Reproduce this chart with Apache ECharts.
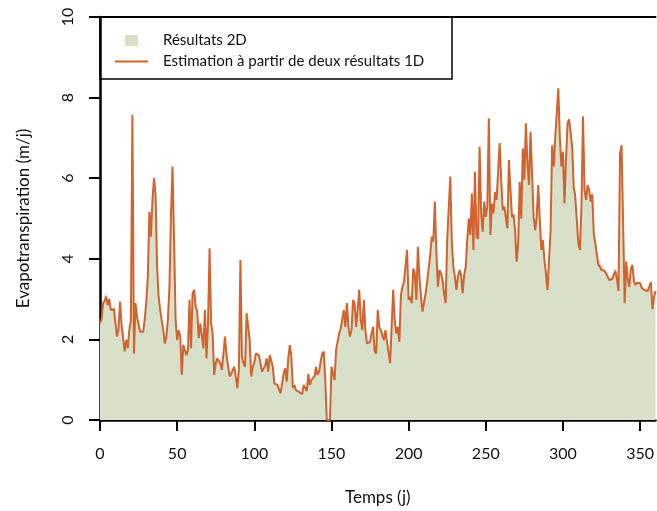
<!DOCTYPE html>
<html>
<head>
<meta charset="utf-8">
<title>Evapotranspiration</title>
<script src="https://cdn.jsdelivr.net/npm/echarts@6.0.0/dist/echarts.min.js"></script>
<style>
  html, body { margin: 0; padding: 0; background: #fff; }
  #chart { width: 657px; height: 511px; }
</style>
</head>
<body>
<div id="chart"></div>
<script>
// valeurs journalieres, jour 0 a 360
var estimation1D = [
    2.4, 2.5, 2.9, 2.95, 3.06, 2.85, 3.0, 2.73, 2.69, 2.75,
    2.73, 2.07, 2.27, 2.94, 2.36, 2.36, 1.70, 1.99, 1.78, 2.23,
    2.48, 7.57, 1.65, 2.9, 2.56, 2.56, 2.19, 2.15, 2.19, 2.5,
    2.94, 3.56, 5.17, 4.55, 5.46, 6.0, 5.6, 3.8, 3.06, 2.73,
    2.48, 2.23, 1.9, 2.07, 2.5, 3.3, 5.1, 6.29, 4.47, 2.48,
    1.98, 2.23, 2.07, 1.12, 1.86, 1.74, 1.61, 1.74, 2.98, 1.78,
    3.14, 3.23, 2.81, 2.69, 2.03, 2.40, 2.40, 1.78, 2.73, 1.53,
    2.4, 4.26, 2.40, 2.15, 1.12, 1.41, 1.53, 1.53, 1.41, 1.24,
    1.2, 2.07, 1.61, 1.57, 1.08, 1.15, 1.24, 1.32, 1.08, 0.79,
    1.24, 3.97, 1.57, 1.41, 1.32, 2.65, 2.69, 1.98, 1.08, 1.32,
    1.41, 1.65, 1.61, 1.61, 1.41, 1.20, 1.24, 1.35, 1.53, 1.20,
    1.61, 1.57, 1.32, 0.91, 0.87, 0.87, 0.87, 0.66, 0.9, 1.16,
    1.28, 0.95, 1.53, 1.86, 1.57, 0.79, 0.87, 0.74, 0.70, 0.70,
    0.66, 0.64, 0.87, 0.87, 0.72, 1.14, 0.87, 0.99, 1.0, 1.08,
    1.32, 1.12, 1.2, 1.45, 1.65, 1.70, 1.0, 0, 0, 0,
    1.32, 1.3, 0.99, 1.74, 1.78, 2.15, 2.27, 2.31, 2.73, 2.31,
    2.90, 2.31, 2.07, 2.23, 2.98, 2.9, 2.31, 2.73, 3.23, 2.48,
    2.23, 2.98, 2.23, 1.90, 1.90, 1.94, 2.15, 2.31, 1.70, 1.65,
    2.73, 2.31, 2.23, 2.27, 1.98, 2.23, 1.94, 1.90, 1.41, 1.41,
    3.23, 2.48, 2.15, 2.31, 1.94, 3.10, 3.3, 3.43, 3.39, 4.22,
    2.98, 3.06, 2.90, 3.76, 3.64, 2.98, 4.30, 3.56, 3.06, 2.69,
    2.65, 3.14, 3.43, 3.43, 4.1, 4.55, 4.43, 5.42, 4.14, 3.31,
    3.72, 3.64, 3.47, 3.14, 2.90, 4.47, 5.26, 6.04, 4.4, 3.8,
    3.55, 3.23, 3.56, 3.72, 3.6, 3.14, 3.6, 3.8, 4.47, 5.0,
    4.59, 5.62, 4.22, 6.16, 4.55, 4.5, 6.78, 5.13, 4.67, 5.42,
    5.04, 5.29, 7.49, 4.59, 5.37, 5.13, 5.66, 5.46, 5.46, 6.87,
    5.96, 5.21, 5.3, 5.3, 4.76, 6.45, 5.71, 5.04, 5.1, 4.7,
    3.93, 4.38, 5.91, 5.0, 6.74, 5.96, 7.36, 6.37, 5.83, 7.15,
    6.12, 5.04, 4.71, 5.04, 5.83, 4.96, 4.22, 4.47, 3.97, 3.64,
    3.23, 3.2, 4.71, 6.82, 6.29, 7.0, 7.03, 8.23, 7.03, 6.29,
    6.66, 5.37, 6.49, 7.36, 7.46, 7.12, 6.78, 5.79, 5.54, 4.96,
    4.38, 4.22, 5.29, 7.53, 5.71, 5.46, 5.83, 5.71, 5.42, 5.6,
    4.63, 4.38, 4.1, 3.85, 3.8, 3.72, 3.68, 3.7, 3.64, 3.62,
    3.47, 3.44, 3.5, 3.6, 3.7, 3.5, 3.2, 6.6, 6.82, 4.9,
    2.90, 3.93, 3.5, 3.3, 3.75, 3.85, 3.45, 3.35, 3.4, 3.42,
    3.4, 3.28, 3.25, 3.22, 3.2, 3.2, 3.22, 3.42, 2.75, 3.05,
    3.2
];

// jours ou le resultat 2D s'ecarte visiblement de l'estimation [jour, valeur]
var ecarts2D = [
    [3, 3.12], [4, 3.18], [6, 3.1], [9, 2.85],
    [323, 3.95], [324, 3.95], [325, 3.88], [326, 3.82], [327, 3.8],
    [332, 3.6], [333, 3.72], [334, 3.8]
];

var xTicks = [0, 50, 100, 150, 200, 250, 300, 350];
var yTicks = [0, 2, 4, 6, 8, 10];

function buildSeries(values, overrides) {
    var out = [];
    values.forEach(function (v, i) {
        out.push([i, v]);
    });
    if (overrides) {
        overrides.forEach(function (o) {
            out[o[0]] = [o[0], o[1]];
        });
    }
    return out;
}

function initChart() {
    var dom = document.getElementById("chart");
    var myChart = echarts.init(dom, null, { renderer: 'canvas' });
    var font = 'Lato';
    var ink = '#111';

    var option = {
        animation: false,
        backgroundColor: '#fff',
        grid: {
            left: 100,
            right: 0,
            top: 17,
            bottom: 91
        },
        legend: [{
            data: [{ name: 'Résultats 2D', icon: 'rect' }],
            left: 125,
            top: 33,
            padding: 0,
            itemWidth: 13,
            itemHeight: 11,
            selectedMode: false,
            itemStyle: { borderWidth: 0 },
            textStyle: { fontFamily: font, fontSize: 15, color: ink, padding: [0, 0, 0, 20] }
        }, {
            data: [{ name: 'Estimation à partir de deux résultats 1D', icon: 'rect' }],
            left: 115,
            top: 54,
            padding: 0,
            itemWidth: 33,
            itemHeight: 2,
            selectedMode: false,
            itemStyle: { borderWidth: 0 },
            textStyle: { fontFamily: font, fontSize: 15, color: ink, padding: [0, 0, 0, 10] }
        }],
        graphic: [{
            type: 'rect',
            z: 0,
            shape: { x: 100, y: 17, width: 352, height: 62 },
            style: { fill: 'none', stroke: '#000', lineWidth: 1.5 }
        }],
        xAxis: [{
            type: 'value',
            min: 0,
            max: 360,
            position: 'bottom',
            name: 'Temps (j)',
            nameLocation: 'middle',
            nameGap: 69,
            nameTextStyle: { fontFamily: font, fontSize: 17, color: ink },
            axisLine: { show: true, onZero: false, lineStyle: { color: '#000', width: 2.5 } },
            axisTick: { show: true, length: 11, lineStyle: { color: '#000', width: 2 }, customValues: xTicks },
            axisLabel: { fontFamily: font, fontSize: 16, color: ink, margin: 26, customValues: xTicks },
            splitLine: { show: false }
        }, {
            type: 'value',
            min: 0,
            max: 360,
            position: 'top',
            axisLine: { show: true, onZero: false, lineStyle: { color: '#000', width: 2 } },
            axisTick: { show: false },
            axisLabel: { show: false },
            splitLine: { show: false }
        }],
        yAxis: {
            type: 'value',
            min: 0,
            max: 10,
            interval: 2,
            name: 'Evapotranspiration (m/j)',
            nameLocation: 'middle',
            nameRotate: 90,
            nameGap: 68,
            nameTextStyle: { fontFamily: font, fontSize: 17, color: ink },
            axisLine: { show: true, onZero: false, lineStyle: { color: '#000', width: 2.5 } },
            axisTick: { show: true, length: 11, lineStyle: { color: '#000', width: 2 }, customValues: yTicks },
            axisLabel: { fontFamily: font, fontSize: 16, color: ink, rotate: 90, margin: 24, customValues: yTicks },
            splitLine: { show: false }
        },
        series: [{
            name: 'Résultats 2D',
            type: 'line',
            data: buildSeries(estimation1D, ecarts2D),
            color: '#d8e0c9',
            showSymbol: false,
            symbol: 'none',
            lineStyle: { width: 0 },
            areaStyle: { color: '#d8e0c9', opacity: 1 },
            z: 1
        }, {
            name: 'Estimation à partir de deux résultats 1D',
            type: 'line',
            data: buildSeries(estimation1D),
            color: '#d0632f',
            showSymbol: false,
            symbol: 'none',
            lineStyle: { width: 2, color: '#d0632f' },
            z: 3
        }]
    };

    if (option && typeof option === "object") {
        myChart.setOption(option, true);
    }
    window.onresize = function () {
        myChart.resize();
    }
}

initChart();
</script>
</body>
</html>
